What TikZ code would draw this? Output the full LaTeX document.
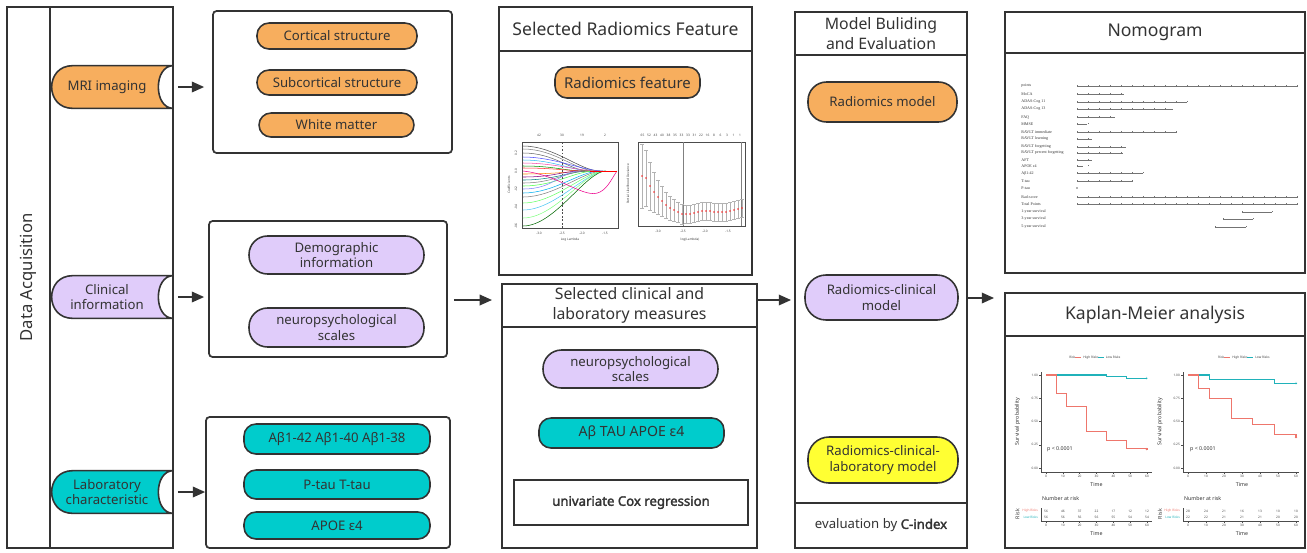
\documentclass[tikz,border=0pt]{standalone}
\usepackage{fontspec}
\setmainfont{Noto Sans}
\newfontfamily\strongfont{Noto Sans}[FakeBold=2.2]
\newfontfamily\nomofont{Liberation Serif}
\usepackage{xcolor}
\usepackage{tikz}
\definecolor{mriorange}{RGB}{247, 174, 94}
\definecolor{cliniclilac}{RGB}{224, 204, 250}
\definecolor{labteal}{RGB}{0, 204, 204}
\definecolor{modelyellow}{RGB}{255, 255, 51}
\definecolor{inkgray}{RGB}{51, 51, 51}
\definecolor{kmred}{RGB}{238, 118, 108}
\definecolor{kmteal}{RGB}{32, 178, 186}
\usetikzlibrary{arrows.meta, positioning, calc, backgrounds}

% tab with a round left end and a hollow right end
\newcommand{\tabshape}[2]{%
  \draw[tabline, fill=#2] ([xshift=0.22cm]#1.north east) -- ([xshift=0.42cm]#1.north west)
    .. controls ([xshift=-0.14cm]#1.north west) and ([xshift=-0.14cm]#1.south west) .. ([xshift=0.42cm]#1.south west)
    -- ([xshift=0.22cm]#1.south east)
    .. controls ([xshift=-0.18cm]#1.south east) and ([xshift=-0.18cm]#1.north east) .. ([xshift=0.22cm]#1.north east) -- cycle;}

\begin{document}
\begin{tikzpicture}[
    x=0.02cm, y=-0.02cm,
    panel/.style={rectangle, draw=inkgray, line width=1.1pt, inner sep=0pt},
    group/.style={rectangle, draw=inkgray, line width=1pt, rounded corners=2pt, inner sep=0pt},
    pill/.style={rectangle, draw=inkgray, line width=0.9pt, rounded corners=0.24cm, inner sep=0pt, align=center, text=inkgray, font=\fontsize{7.5}{9}\selectfont},
    tallpill/.style={pill, rounded corners=0.37cm},
    tab/.style={rectangle, minimum width=2.2cm, minimum height=0.84cm, inner sep=0pt, align=center, text=inkgray, font=\fontsize{7.5}{9}\selectfont},
    tabline/.style={draw=inkgray, line width=0.9pt},
    head/.style={panel, anchor=north, text=inkgray, align=center, font=\fontsize{9}{11.5}\selectfont},
    bighead/.style={head, font=\fontsize{10}{12}\selectfont},
    flow/.style={-{Triangle[length=7pt, width=6pt]}, draw=inkgray, line width=1pt},
    plotline/.style={line width=0.3pt},
    ticklab/.style={inner sep=0.6pt, text=black!75, font=\fontsize{1.8}{2}\selectfont},
    nomolab/.style={inner sep=0pt, anchor=west, text=black!80, font=\nomofont\fontsize{2.3}{2.6}\selectfont},
    nomoaxis/.style={line width=0.25pt, draw=black!55},
    kmaxis/.style={draw=black!70, line width=0.3pt},
    kmcurve/.style={line width=0.6pt},
    kmlab/.style={inner sep=0.5pt, text=black!80, font=\fontsize{3}{3.5}\selectfont}
]
    \useasboundingbox (0,0) rectangle (1307,552);

    % Data acquisition column
    \node[panel, minimum width=3.32cm, minimum height=10.82cm] (acq) at (90,277.5) {};
    \node[panel, minimum width=2.46cm, minimum height=10.82cm] (acqcol) at (111.5,277.5) {};
    \node[rotate=90, text=inkgray, font=\fontsize{9.5}{11}\selectfont] (acqlabel) at (28.5,277.5) {Data Acquisition};

    \node[tab] (mri) at (107,87) {MRI imaging};
    \node[tab] (clin) at (107,297) {Clinical\\information};
    \node[tab] (lab) at (107,492) {Laboratory\\characteristic};
    \begin{scope}[on background layer]
        \tabshape{mri}{mriorange}
        \tabshape{clin}{cliniclilac}
        \tabshape{lab}{labteal}
    \end{scope}

    % MRI group
    \node[group, minimum width=4.78cm, minimum height=2.84cm] (mribox) at (332.5,82) {};
    \node[pill, fill=mriorange, minimum width=3.2cm, minimum height=0.52cm] (cort) at (337,36) {Cortical structure};
    \node[pill, fill=mriorange, minimum width=3.2cm, minimum height=0.5cm] (subcort) at (337,82.5) {Subcortical structure};
    \node[pill, fill=mriorange, minimum width=3.1cm, minimum height=0.48cm] (white) at (336.5,125) {White matter};

    % clinical group
    \node[group, minimum width=4.76cm, minimum height=2.72cm] (clinbox) at (328,289) {};
    \node[tallpill, fill=cliniclilac, minimum width=3.5cm, minimum height=0.76cm] (demo) at (336.5,255) {Demographic\\information};
    \node[tallpill, fill=cliniclilac, minimum width=3.5cm, minimum height=0.78cm] (scales) at (336.5,327.5) {neuropsychological\\scales};

    % laboratory group
    \node[group, minimum width=4.88cm, minimum height=2.62cm] (labbox) at (328,482.5) {};
    \node[pill, fill=labteal, minimum width=3.72cm, minimum height=0.6cm] (abeta) at (337,439) {Aβ1-42 Aβ1-40 Aβ1-38};
    \node[pill, fill=labteal, minimum width=3.72cm, minimum height=0.58cm] (tau) at (337,484.5) {P-tau T-tau};
    \node[pill, fill=labteal, minimum width=3.72cm, minimum height=0.54cm] (apoe) at (337,525.5) {APOE ε4};

    % Selected radiomics feature
    \node[panel, minimum width=5.06cm, minimum height=5.36cm] (selrad) at (625.5,141) {};
    \node[bighead, minimum width=5.06cm, minimum height=0.88cm] (selradhead) at (selrad.north) {Selected Radiomics Feature};
    \node[pill, fill=mriorange, minimum width=2.9cm, minimum height=0.62cm, font=\fontsize{8.5}{10}\selectfont] (radfeat) at (627.5,82.5) {Radiomics feature};

    % LASSO paths
    \draw[kmaxis] (522,142) rectangle (618,228);
    \foreach \sy/\ex/\col in {146/600/black!70, 149/596/gray, 153/590/black!60, 157/603/blue!70,
        160/592/cyan!80, 163/598/magenta!70, 166/585/green!60!black, 168/588/red!80,
        174/594/orange, 177/582/violet, 180/590/teal, 183/587/black!50, 186/595/green!70,
        189/580/blue!50, 193/600/cyan, 197/603/gray, 203/605/green!60, 210/606/cyan!70,
        218/605/green!50, 226/606/green!40!black}
        \draw[plotline, \col] (523,\sy) .. controls (555,\sy) and (\ex-20,171) .. (\ex,171);
    \draw[plotline, magenta] (523,171) .. controls (560,175) and (585,200) .. (600,192) .. controls (608,188) and (612,178) .. (617,171);
    \draw[plotline, red] (590,171) -- (617,171);
    \draw[line width=0.25pt, black!70, dash pattern=on 1pt off 1pt] (562,142) -- (562,228);
    \foreach \tx/\lab in {539/42, 562/30, 582/19, 605/2}
        \node[ticklab] at (\tx,135) {\lab};
    \foreach \tx/\lab in {539/-3.0, 562/-2.5, 582/-2.0, 605/-1.5}
        \node[ticklab] at (\tx,233) {\lab};
    \foreach \ty/\lab in {153/0.2, 171/0.0, 189/-0.2, 207/-0.4, 226/-0.6}
        \node[ticklab, rotate=90] at (516,\ty) {\lab};
    \node[ticklab] at (570,240) {Log Lambda};
    \node[ticklab, rotate=90] at (509,185) {Coefficients};

    % LASSO deviance
    \draw[kmaxis] (638,142) rectangle (745,226);
    \draw[plotline, gray] (683,142) -- (683,226);
    \draw[plotline, gray] (741,142) -- (741,226);
    \foreach \px/\py/\pe in {642/176/32, 646/178/28, 650/186/24, 654/192/20, 658/197/17,
        662/201/15, 666/205/13, 670/208/12, 674/210/11, 678/212/10, 682/214/10, 686/214/9,
        690/214/9, 694/213/9, 698/212/9, 702/211/9, 706/211/9, 710/211/9, 714/212/9,
        718/212/9, 722/212/9, 726/212/9, 730/211/9, 734/210/9, 738/209/9, 742/208/9}
    {
        \draw[line width=0.2pt, gray!60, {Bar[width=2pt]}-{Bar[width=2pt]}] (\px,\py-\pe) -- (\px,\py+\pe);
        \fill[red!85] (\px,\py) circle[radius=0.55pt];
    }
    \foreach \lab [count=\i] in {65,52,43,40,38,35,33,33,31,22,16,8,6,3,1,1}
        \node[ticklab] at (636+6.5*\i,135) {\lab};
    \foreach \tx/\lab in {658/-3.0, 683/-2.5, 705/-2.0, 728/-1.5}
        \node[ticklab] at (\tx,231) {\lab};
    \node[ticklab] at (690,240) {log(Lambda)};
    \node[ticklab, rotate=90] at (628,184) {Partial Likelihood Deviance};

    % Selected clinical and laboratory measures
    \node[panel, minimum width=5.1cm, minimum height=5.28cm] (selclin) at (629.5,416) {};
    \node[head, minimum width=5.1cm, minimum height=0.86cm] (selclinhead) at (selclin.north) {Selected clinical and\\laboratory measures};
    \node[tallpill, fill=cliniclilac, minimum width=3.5cm, minimum height=0.76cm] (scales2) at (630.5,369) {neuropsychological\\scales};
    \node[pill, fill=labteal, minimum width=3.7cm, minimum height=0.6cm, font=\fontsize{8}{9.5}\selectfont] (biomark) at (631.5,433) {Aβ TAU APOE ε4};
    \node[panel, line width=1pt, minimum width=4.68cm, minimum height=0.9cm, text=inkgray, font=\strongfont\fontsize{7.5}{9}\selectfont] (cox) at (631,502.5) {univariate Cox regression};

    % Model building and evaluation
    \node[panel, minimum width=3.44cm, minimum height=10.72cm] (model) at (881,280) {};
    \node[head, minimum width=3.44cm, minimum height=0.86cm] (modelhead) at (model.north) {Model Buliding\\and Evaluation};
    \node[tallpill, fill=mriorange, minimum width=2.98cm, minimum height=0.8cm] (radmodel) at (882.5,102) {Radiomics model};
    \node[tallpill, rounded corners=0.42cm, fill=cliniclilac, minimum width=3.06cm, minimum height=0.9cm] (radclin) at (881.5,297.5) {Radiomics-clinical\\model};
    \node[tallpill, rounded corners=0.42cm, fill=modelyellow, minimum width=3.0cm, minimum height=0.92cm] (radlab) at (883,460) {Radiomics-clinical-\\laboratory model};
    \node[panel, anchor=south, minimum width=3.44cm, minimum height=0.9cm, text=inkgray, font=\fontsize{7.5}{9}\selectfont] (cindex) at (model.south) {evaluation by {\strongfont C-index}};

    % Nomogram
    \node[panel, minimum width=6cm, minimum height=5.22cm] (nomo) at (1155,142.5) {};
    \node[bighead, minimum width=6cm, minimum height=0.82cm] (nomohead) at (nomo.north) {Nomogram};
    \foreach \lab/\ry/\xe in {points/86/1298, MoCA/94/1124, ADAS-Cog 11/102/1187, ADAS-Cog 13/109/1173,
        FAQ/117/1115, MMSE/124/1087, RAVLT immediate/132/1177, RAVLT learning/139/1092,
        RAVLT forgetting/147/1126, RAVLT percent forgetting/153/1123, AFT/160/1092,
        APOE ε4/166/1083, Aβ1-42/173/1143, T-tau/181/1133, Rad-score/197/1298, Total Points/204/1298}
    {
        \node[nomolab] at (1021,\ry) {\lab};
        \draw[nomoaxis] (1077,\ry) -- (\xe,\ry);
        \foreach \tx in {1077,1088,...,\xe}
            \draw[nomoaxis] (\tx,\ry) -- (\tx,\ry-1.4);
    }
    \node[nomolab] at (1021,188) {P-tau};
    \fill[black!60] (1077,188) circle[radius=0.5pt];
    \foreach \lab/\ry/\xs/\xe in {1-year survival/212/1242/1272, 3-year survival/219/1223/1253, 5-year survival/227/1215/1246}
    {
        \node[nomolab] at (1021,\ry) {\lab};
        \draw[nomoaxis] (\xs,\ry) -- (\xe,\ry);
        \draw[nomoaxis] (\xs,\ry) -- (\xs,\ry-1.4);
        \draw[nomoaxis] (\xe,\ry) -- (\xe,\ry-1.4);
    }

    % Kaplan-Meier analysis
    \node[panel, minimum width=6cm, minimum height=5.1cm] (km) at (1155,420.5) {};
    \node[bighead, minimum width=6cm, minimum height=0.86cm] (kmhead) at (km.north) {Kaplan-Meier analysis};

    \begin{scope}[shift={(1046,468)}, xscale=1.683, yscale=-93]
        \draw[kmaxis] (-3,1.03) -- (-3,-0.043) -- (63,-0.043);
        \foreach \s/\lab in {0/0.00, 0.25/0.25, 0.5/0.50, 0.75/0.75, 1/1.00}
            \draw[kmaxis] (-3,\s) -- (-4,\s) node[ticklab, left] {\lab};
        \foreach \t in {0,10,...,60}
            \draw[kmaxis] (\t,-0.043) -- (\t,-0.065) node[ticklab, below] {\t};
        \draw[kmcurve, kmteal] (0,1) -- (36,1) -- (36,0.98) -- (48,0.98) -- (48,0.96) -- (60,0.96);
        \draw[kmcurve, kmred] (0,1) -- (6,1) -- (6,0.80) -- (12,0.80) -- (12,0.66) -- (24,0.66) -- (24,0.39)
            -- (36,0.39) -- (36,0.30) -- (48,0.30) -- (48,0.21) -- (60,0.21) -- (60,0.19);
        \node[kmlab, text=kmteal] at (60,0.96) {+};
        \node[kmlab, text=kmred] at (60,0.19) {+};
        \node[kmlab] at (8.3,0.2) {p < 0.0001};
        \node[kmlab] at (30,-0.18) {Time};
        \node[kmlab, rotate=90] at (-17,0.5) {Survival probability};
        \node[ticklab, anchor=west] at (13,1.19) {Risk};
        \draw[kmcurve, kmred] (17.5,1.19) -- (21,1.19);
        \node[ticklab, anchor=west] at (21.3,1.19) {High Risks};
        \draw[kmcurve, kmteal] (31,1.19) -- (34.5,1.19);
        \node[ticklab, anchor=west] at (34.8,1.19) {Low Risks};
        % risk table
        \node[kmlab, anchor=west] at (-3,-0.333) {Number at risk};
        \node[ticklab, text=kmred, anchor=east] at (-4,-0.462) {High Risks};
        \node[ticklab, text=kmteal, anchor=east] at (-4,-0.527) {Low Risks};
        \node[kmlab, rotate=90] at (-17,-0.495) {Risk};
        \draw[kmaxis] (-3,-0.43) -- (-3,-0.57) -- (63,-0.57);
        \foreach \t/\hi/\lo in {0/56/56, 10/46/56, 20/37/56, 30/22/56, 40/17/55, 50/12/54, 60/12/54}
        {
            \node[ticklab] at (\t,-0.462) {\hi};
            \node[ticklab] at (\t,-0.527) {\lo};
            \draw[kmaxis] (\t,-0.57) -- (\t,-0.59) node[ticklab, below] {\t};
        }
        \node[kmlab] at (30,-0.71) {Time};
    \end{scope}

    \begin{scope}[shift={(1188,468)}, xscale=1.8, yscale=-93]
        \draw[kmaxis] (-2.8,1.03) -- (-2.8,-0.043) -- (61.7,-0.043);
        \foreach \s/\lab in {0/0.00, 0.25/0.25, 0.5/0.50, 0.75/0.75, 1/1.00}
            \draw[kmaxis] (-2.8,\s) -- (-3.8,\s) node[ticklab, left] {\lab};
        \foreach \t in {0,10,...,60}
            \draw[kmaxis] (\t,-0.043) -- (\t,-0.065) node[ticklab, below] {\t};
        \draw[kmcurve, kmteal] (0,1) -- (12,1) -- (12,0.95) -- (48,0.95) -- (48,0.91) -- (60,0.91) -- (60,0.90);
        \draw[kmcurve, kmred] (0,1) -- (6,1) -- (6,0.86) -- (12,0.86) -- (12,0.75) -- (24,0.75) -- (24,0.53)
            -- (36,0.53) -- (36,0.47) -- (48,0.47) -- (48,0.36) -- (60,0.36) -- (60,0.32);
        \node[kmlab, text=kmteal] at (60,0.90) {+};
        \node[kmlab, text=kmred] at (60,0.32) {+};
        \node[kmlab] at (8.3,0.2) {p < 0.0001};
        \node[kmlab] at (30,-0.18) {Time};
        \node[kmlab, rotate=90] at (-15.6,0.5) {Survival probability};
        \node[ticklab, anchor=west] at (16,1.19) {Risk};
        \draw[kmcurve, kmred] (20.2,1.19) -- (23.5,1.19);
        \node[ticklab, anchor=west] at (23.8,1.19) {High Risks};
        \draw[kmcurve, kmteal] (33,1.19) -- (36.3,1.19);
        \node[ticklab, anchor=west] at (36.6,1.19) {Low Risks};
        % risk table
        \node[kmlab, anchor=west] at (-2.8,-0.333) {Number at risk};
        \node[ticklab, text=kmred, anchor=east] at (-3.8,-0.462) {High Risks};
        \node[ticklab, text=kmteal, anchor=east] at (-3.8,-0.527) {Low Risks};
        \node[kmlab, rotate=90] at (-15.6,-0.495) {Risk};
        \draw[kmaxis] (-2.8,-0.43) -- (-2.8,-0.57) -- (61.7,-0.57);
        \foreach \t/\hi/\lo in {0/28/22, 10/24/22, 20/21/21, 30/16/21, 40/13/21, 50/10/20, 60/10/20}
        {
            \node[ticklab] at (\t,-0.462) {\hi};
            \node[ticklab] at (\t,-0.527) {\lo};
            \draw[kmaxis] (\t,-0.57) -- (\t,-0.59) node[ticklab, below] {\t};
        }
        \node[kmlab] at (30,-0.71) {Time};
    \end{scope}

    % Arrows
    \coordinate (midin) at (497,300);
    \coordinate (rightin) at (1000,298);
    \draw[flow, shorten <=0.08cm, shorten >=0.16cm] (acqcol.east |- mri) -- (mribox.west |- mri);
    \draw[flow, shorten <=0.08cm, shorten >=0.08cm] (acqcol.east |- clin) -- (clinbox.west |- clin);
    \draw[flow, shorten <=0.08cm] (acqcol.east |- lab) -- (labbox.west |- lab);
    \draw[flow, shorten <=0.12cm, shorten >=0.1cm] (clinbox.east |- midin) -- (midin);
    \draw[flow, shorten >=0.06cm] (selclin.east |- midin) -- (model.west |- midin);
    \draw[flow, shorten >=0.2cm] (model.east |- rightin) -- (km.west |- rightin);
\end{tikzpicture}
\end{document}
